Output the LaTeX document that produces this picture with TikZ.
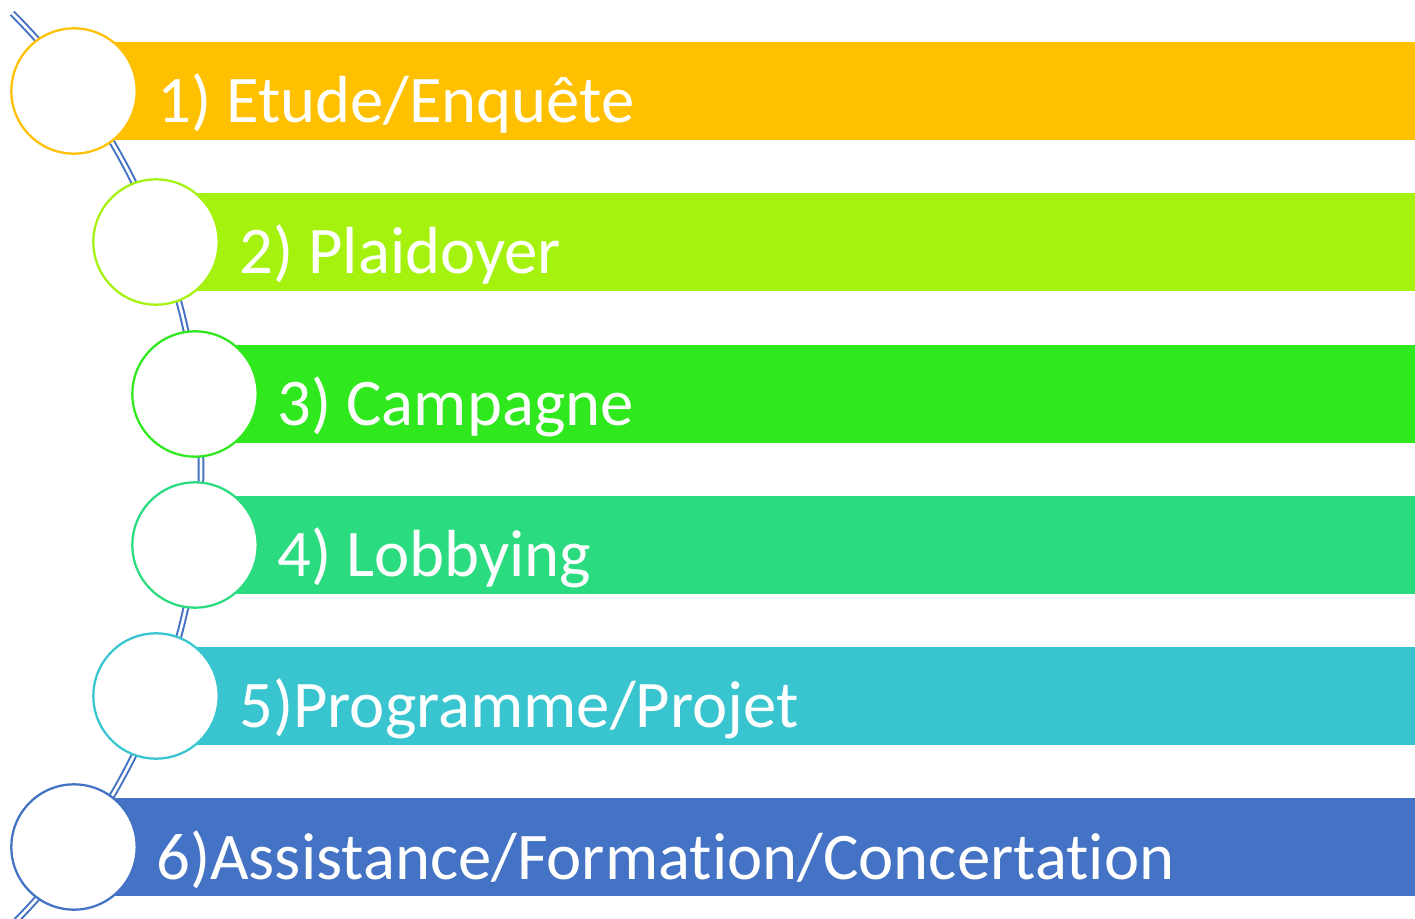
\documentclass[tikz,border=0pt]{standalone}
\usepackage{fontspec}
\setmainfont[Ligatures=NoCommon]{Carlito}
\definecolor{c1}{HTML}{FFC000}
\definecolor{c2}{HTML}{A5F20E}
\definecolor{c3}{HTML}{2FE81D}
\definecolor{c4}{HTML}{2BDB80}
\definecolor{c5}{HTML}{38C5CF}
\definecolor{c6}{HTML}{4472C4}
\definecolor{linkblue}{HTML}{4472C4}
\tikzset{
  bar/.style={fill=#1, draw=none},
  disc/.style={circle, draw=#1, fill=white, line width=1.7pt, minimum size=94pt, inner sep=0pt},
  lbl/.style={anchor=base west, text=white, inner sep=0pt, font=\fontsize{50}{60}\selectfont},
  link/.style={draw=linkblue, line width=1.5pt, double=white, double distance=2pt}
}
\begin{document}
\begin{tikzpicture}[x=0.75pt, y=-0.75pt]
\useasboundingbox (0,0) rectangle (1415,919);
% connecting double arc (centre at (-443.6,469), radius 644.6)
\draw[link] (12.2,13.2) arc[start angle=-45, end angle=47, radius=644.6];
% bars
\foreach \i/\cx/\top in {1/74/42, 2/156/193, 3/195/345, 4/195/496, 5/156/647, 6/74/798}{
  \path[bar=c\i] (\cx,\top) rectangle (1415,\top+98);
}
% circles
\node[disc=c1] (n1) at (74,91) {};
\node[disc=c2] (n2) at (156,242) {};
\node[disc=c3] (n3) at (195,394) {};
\node[disc=c4] (n4) at (195,545) {};
\node[disc=c5] (n5) at (156,696) {};
\node[disc=c6] (n6) at (74,847) {};
% labels
\node[lbl] (t1) at (157,123) {1) Etude/Enquête};
\node[lbl] (t2) at (239,274) {2) Plaidoyer};
\node[lbl] (t3) at (277,426) {3) Campagne};
\node[lbl] (t4) at (277,577) {4) Lobbying};
\node[lbl] (t5) at (239,728) {5)Programme/Projet};
\node[lbl] (t6) at (156,879) {6)Assistance/Formation/Concertation};
\end{tikzpicture}
\end{document}
